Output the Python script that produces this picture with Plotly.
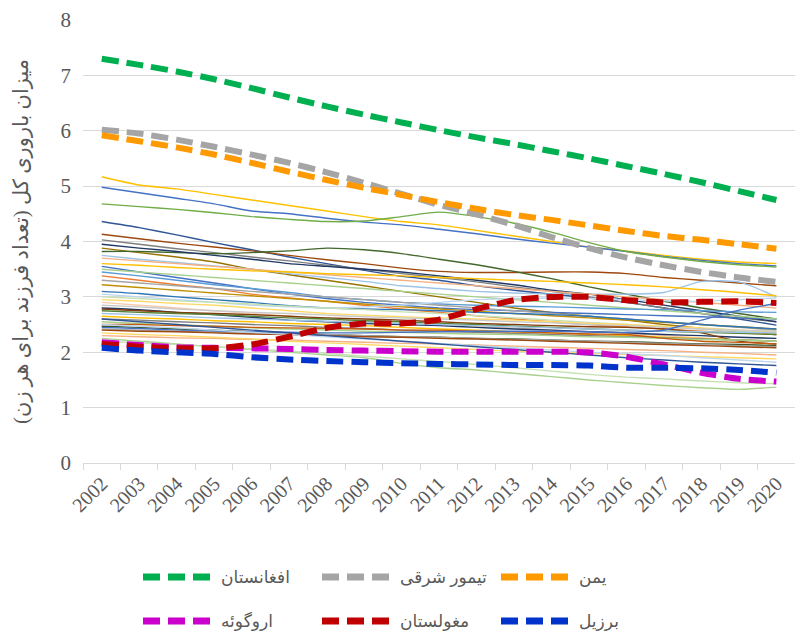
import plotly.graph_objects as go

years = ["2002", "2003", "2004", "2005", "2006", "2007", "2008", "2009", "2010", "2011",
         "2012", "2013", "2014", "2015", "2016", "2017", "2018", "2019", "2020"]

# Highlighted countries (total fertility rate)
afghanistan = [7.30, 7.19, 7.07, 6.93, 6.77, 6.60, 6.44, 6.29, 6.15, 6.01, 5.88, 5.76, 5.63, 5.50, 5.36, 5.22, 5.07, 4.91, 4.75]
timor_leste = [6.02, 5.95, 5.84, 5.71, 5.57, 5.42, 5.25, 5.06, 4.86, 4.66, 4.49, 4.30, 4.08, 3.88, 3.71, 3.57, 3.45, 3.35, 3.27]
yemen = [5.92, 5.81, 5.70, 5.57, 5.42, 5.26, 5.11, 4.97, 4.84, 4.71, 4.59, 4.48, 4.39, 4.29, 4.19, 4.10, 4.03, 3.95, 3.87]
uruguay = [2.18, 2.13, 2.09, 2.08, 2.07, 2.06, 2.04, 2.03, 2.02, 2.01, 2.01, 2.01, 2.01, 2.00, 1.92, 1.78, 1.63, 1.52, 1.47]
mongolia = [2.15, 2.10, 2.07, 2.07, 2.14, 2.28, 2.44, 2.52, 2.52, 2.59, 2.78, 2.94, 3.00, 3.00, 2.94, 2.90, 2.91, 2.92, 2.89]
brazil = [2.08, 2.03, 2.00, 1.97, 1.91, 1.87, 1.84, 1.82, 1.80, 1.79, 1.78, 1.77, 1.77, 1.76, 1.72, 1.72, 1.71, 1.68, 1.63]

highlight_names = ["افغانستان", "تیمور شرقی", "یمن", "اروگوئه", "مغولستان", "برزیل"]
highlight_colors = ["#00B050", "#A5A5A5", "#FF9900", "#CC00CC", "#C00000", "#0033CC"]

# Other countries (thin background lines)
background_tfr = [
    [5.17, 5.02, 4.95, 4.85, 4.75, 4.65, 4.55, 4.45, 4.36, 4.30, 4.20, 4.10, 4.00, 3.90, 3.83, 3.75, 3.68, 3.63, 3.60],
    [4.98, 4.88, 4.78, 4.68, 4.55, 4.50, 4.42, 4.35, 4.30, 4.22, 4.14, 4.05, 3.97, 3.90, 3.82, 3.73, 3.66, 3.60, 3.56],
    [4.68, 4.63, 4.58, 4.52, 4.45, 4.40, 4.36, 4.37, 4.45, 4.53, 4.45, 4.33, 4.17, 3.98, 3.82, 3.72, 3.64, 3.58, 3.54],
    [4.36, 4.25, 4.12, 3.98, 3.85, 3.72, 3.60, 3.48, 3.37, 3.30, 3.20, 3.12, 3.05, 2.98, 2.90, 2.80, 2.70, 2.60, 2.49],
    [4.13, 4.05, 3.97, 3.90, 3.83, 3.75, 3.67, 3.60, 3.52, 3.46, 3.44, 3.44, 3.45, 3.45, 3.42, 3.35, 3.30, 3.25, 3.20],
    [4.03, 3.95, 3.87, 3.80, 3.72, 3.65, 3.57, 3.50, 3.42, 3.35, 3.27, 3.18, 3.10, 3.00, 2.90, 2.80, 2.70, 2.62, 2.55],
    [3.88, 3.80, 3.72, 3.63, 3.50, 3.40, 3.30, 3.20, 3.10, 3.00, 2.90, 2.80, 2.72, 2.65, 2.58, 2.50, 2.43, 2.37, 2.32],
    [3.82, 3.82, 3.80, 3.78, 3.80, 3.83, 3.88, 3.85, 3.78, 3.68, 3.58, 3.46, 3.33, 3.18, 3.05, 2.92, 2.80, 2.70, 2.60],
    [3.95, 3.88, 3.82, 3.75, 3.68, 3.60, 3.55, 3.50, 3.45, 3.38, 3.30, 3.22, 3.12, 3.05, 2.95, 2.85, 2.75, 2.65, 2.55],
    [3.75, 3.68, 3.62, 3.56, 3.50, 3.42, 3.35, 3.28, 3.20, 3.15, 3.10, 3.07, 3.05, 3.05, 3.05, 3.08, 3.28, 3.27, 3.00],
    [3.70, 3.65, 3.60, 3.55, 3.50, 3.45, 3.40, 3.35, 3.30, 3.25, 3.20, 3.15, 3.10, 3.05, 3.00, 2.95, 2.90, 2.85, 2.80],
    [3.60, 3.57, 3.53, 3.50, 3.47, 3.45, 3.42, 3.40, 3.38, 3.35, 3.33, 3.30, 3.28, 3.25, 3.22, 3.18, 3.13, 3.08, 3.02],
    [3.55, 3.45, 3.35, 3.25, 3.15, 3.05, 2.97, 2.90, 2.85, 2.80, 2.77, 2.75, 2.72, 2.70, 2.68, 2.66, 2.64, 2.62, 2.60],
    [3.50, 3.45, 3.40, 3.35, 3.30, 3.25, 3.20, 3.15, 3.10, 3.05, 3.00, 2.95, 2.90, 2.85, 2.80, 2.75, 2.70, 2.65, 2.60],
    [3.45, 3.38, 3.30, 3.22, 3.15, 3.08, 3.00, 2.95, 2.90, 2.87, 2.85, 2.83, 2.82, 2.80, 2.78, 2.77, 2.75, 2.73, 2.72],
    [3.38, 3.30, 3.22, 3.15, 3.05, 2.98, 2.92, 2.85, 2.78, 2.72, 2.66, 2.60, 2.55, 2.50, 2.46, 2.42, 2.38, 2.35, 2.32],
    [3.30, 3.25, 3.20, 3.15, 3.10, 3.05, 3.00, 2.95, 2.90, 2.85, 2.80, 2.75, 2.70, 2.65, 2.60, 2.55, 2.50, 2.45, 2.40],
    [3.22, 3.17, 3.12, 3.07, 3.02, 2.97, 2.92, 2.87, 2.82, 2.78, 2.74, 2.70, 2.66, 2.62, 2.58, 2.54, 2.50, 2.46, 2.42],
    [3.10, 3.06, 3.00, 2.95, 2.90, 2.84, 2.80, 2.78, 2.77, 2.75, 2.72, 2.70, 2.68, 2.65, 2.60, 2.55, 2.50, 2.46, 2.42],
    [3.05, 3.00, 2.95, 2.90, 2.85, 2.82, 2.80, 2.82, 2.85, 2.90, 2.95, 2.97, 2.98, 2.97, 2.95, 2.93, 2.92, 2.95, 2.98],
    [3.00, 2.97, 2.93, 2.90, 2.87, 2.83, 2.80, 2.77, 2.73, 2.70, 2.66, 2.62, 2.58, 2.54, 2.50, 2.46, 2.42, 2.38, 2.35],
    [2.95, 2.92, 2.88, 2.85, 2.80, 2.75, 2.70, 2.67, 2.64, 2.62, 2.60, 2.58, 2.55, 2.52, 2.50, 2.47, 2.44, 2.40, 2.37],
    [2.90, 2.85, 2.80, 2.75, 2.70, 2.65, 2.60, 2.56, 2.52, 2.50, 2.47, 2.44, 2.40, 2.37, 2.33, 2.30, 2.26, 2.22, 2.20],
    [2.85, 2.82, 2.78, 2.75, 2.72, 2.70, 2.67, 2.64, 2.62, 2.60, 2.58, 2.55, 2.53, 2.50, 2.48, 2.45, 2.42, 2.40, 2.38],
    [2.80, 2.77, 2.72, 2.68, 2.63, 2.58, 2.55, 2.52, 2.50, 2.48, 2.45, 2.42, 2.40, 2.37, 2.35, 2.32, 2.30, 2.27, 2.25],
    [2.78, 2.75, 2.72, 2.70, 2.68, 2.65, 2.62, 2.60, 2.58, 2.55, 2.52, 2.50, 2.48, 2.46, 2.45, 2.42, 2.35, 2.20, 2.15],
    [2.75, 2.72, 2.70, 2.68, 2.65, 2.62, 2.60, 2.57, 2.55, 2.52, 2.50, 2.47, 2.45, 2.42, 2.40, 2.38, 2.36, 2.34, 2.32],
    [2.70, 2.68, 2.65, 2.62, 2.60, 2.58, 2.56, 2.54, 2.52, 2.50, 2.48, 2.46, 2.44, 2.42, 2.40, 2.38, 2.37, 2.36, 2.35],
    [2.65, 2.62, 2.60, 2.57, 2.55, 2.52, 2.50, 2.48, 2.45, 2.42, 2.40, 2.37, 2.35, 2.32, 2.30, 2.27, 2.25, 2.22, 2.20],
    [2.60, 2.58, 2.55, 2.53, 2.50, 2.48, 2.45, 2.43, 2.40, 2.38, 2.36, 2.34, 2.32, 2.30, 2.28, 2.26, 2.24, 2.22, 2.20],
    [2.55, 2.52, 2.50, 2.47, 2.44, 2.42, 2.40, 2.38, 2.36, 2.34, 2.33, 2.32, 2.30, 2.28, 2.27, 2.25, 2.23, 2.22, 2.20],
    [2.50, 2.50, 2.48, 2.47, 2.45, 2.44, 2.43, 2.42, 2.40, 2.40, 2.38, 2.37, 2.35, 2.33, 2.32, 2.25, 2.20, 2.18, 2.15],
    [2.47, 2.45, 2.42, 2.40, 2.37, 2.35, 2.32, 2.30, 2.28, 2.27, 2.25, 2.24, 2.22, 2.20, 2.19, 2.17, 2.15, 2.14, 2.12],
    [2.45, 2.43, 2.40, 2.38, 2.37, 2.36, 2.35, 2.35, 2.36, 2.37, 2.38, 2.38, 2.38, 2.37, 2.36, 2.40, 2.58, 2.76, 2.88],
    [2.42, 2.40, 2.38, 2.36, 2.34, 2.33, 2.32, 2.30, 2.28, 2.27, 2.25, 2.23, 2.22, 2.20, 2.18, 2.16, 2.14, 2.12, 2.10],
    [2.40, 2.38, 2.37, 2.35, 2.33, 2.32, 2.30, 2.28, 2.27, 2.25, 2.24, 2.22, 2.20, 2.18, 2.16, 2.14, 2.12, 2.10, 2.08],
    [2.30, 2.28, 2.26, 2.25, 2.23, 2.22, 2.20, 2.18, 2.16, 2.15, 2.13, 2.11, 2.09, 2.07, 2.05, 2.03, 2.00, 1.98, 1.95],
    [2.25, 2.20, 2.15, 2.10, 2.05, 2.00, 1.95, 1.90, 1.80, 1.72, 1.68, 1.62, 1.56, 1.50, 1.45, 1.40, 1.36, 1.33, 1.37],
    [2.20, 2.17, 2.14, 2.10, 2.06, 2.02, 1.98, 1.93, 1.88, 1.83, 1.78, 1.72, 1.66, 1.60, 1.55, 1.52, 1.48, 1.45, 1.43],
    [2.35, 2.32, 2.30, 2.27, 2.24, 2.20, 2.17, 2.14, 2.11, 2.08, 2.05, 2.02, 2.00, 1.98, 1.96, 1.94, 1.92, 1.90, 1.88],
    [2.50, 2.47, 2.44, 2.40, 2.36, 2.32, 2.28, 2.24, 2.20, 2.16, 2.12, 2.08, 2.04, 2.00, 1.97, 1.94, 1.90, 1.86, 1.82],
    [2.60, 2.55, 2.50, 2.45, 2.40, 2.35, 2.30, 2.25, 2.20, 2.15, 2.10, 2.05, 2.00, 1.95, 1.90, 1.86, 1.82, 1.79, 1.76],
]
background_colors = [
    "#FFC000", "#4472C4", "#70AD47", "#2F5597", "#9E480E", "#7F7F7F", "#997300", "#43682B",
    "#203864", "#9DC3E6", "#F4B183", "#FFC000", "#4472C4", "#A9D18E", "#5B9BD5", "#ED7D31",
    "#A5A5A5", "#BF9000", "#2E75B6", "#BDD7EE", "#C5E0B4", "#FFD966", "#F8CBAD", "#C9C9C9",
    "#1F3864", "#843C0C", "#548235", "#9DC3E6", "#FFC000", "#7F7F7F", "#A9D18E", "#C55A11",
    "#375623", "#4472C4", "#A5A5A5", "#9E480E", "#F4B183", "#A9D18E", "#C5E0B4", "#FFD966",
    "#BDD7EE", "#2F5597",
]

SERIF = "Liberation Serif, DejaVu Serif, serif"
PERSIAN = "Liberation Serif, DejaVu Sans, serif"

fig = go.Figure()

for vals, col in zip(background_tfr, background_colors):
    fig.add_trace(go.Scatter(
        x=years, y=vals, mode="lines", showlegend=False, hoverinfo="skip",
        line=dict(color=col, width=1.4, shape="spline", smoothing=0.6),
    ))

highlight_values = [timor_leste, yemen, afghanistan, uruguay, mongolia, brazil]
highlight_order = [1, 2, 0, 3, 4, 5]
for idx, vals in zip(highlight_order, highlight_values):
    fig.add_trace(go.Scatter(
        x=years, y=vals, mode="lines", name=highlight_names[idx], showlegend=False,
        line=dict(color=highlight_colors[idx], width=6, dash="17px,8px",
                  shape="spline", smoothing=0.6),
    ))

# Page body has an 8px default margin: figure is sized/offset so the plot area
# sits at window x 83..803, y 20..463.
plot_left, plot_w, plot_bottom, plot_h = 83, 720, 463, 443
def px(x):
    return (x - plot_left) / plot_w
def py(y):
    return (plot_bottom - y) / plot_h

legend_rows = [[0, 1, 2], [3, 4, 5]]
row_y = [577, 621]
col_x = [143, 322, 501]
for r, row in enumerate(legend_rows):
    for c, idx in enumerate(row):
        fig.add_shape(type="line", xref="paper", yref="paper",
                      x0=px(col_x[c]), x1=px(col_x[c] + 68), y0=py(row_y[r]), y1=py(row_y[r]),
                      line=dict(color=highlight_colors[idx], width=7, dash="17px,8px"))
        fig.add_annotation(xref="paper", yref="paper", x=px(col_x[c] + 76), y=py(row_y[r]),
                           text=highlight_names[idx], showarrow=False, xanchor="left",
                           yanchor="middle",
                           font=dict(family=PERSIAN, size=17, color="#595959"))

fig.update_layout(
    width=795, height=630,
    margin=dict(l=75, r=0, t=12, b=175),
    paper_bgcolor="white", plot_bgcolor="white",
    showlegend=False,
    xaxis=dict(
        type="category", range=[-0.5, 18.71], tickson="boundaries",
        showgrid=False, showline=True, linecolor="#D9D9D9", linewidth=1,
        ticks="outside", ticklen=6, tickcolor="#D9D9D9", tickangle=-45,
        tickfont=dict(family=SERIF, size=20, color="#595959"),
        zeroline=False,
    ),
    yaxis=dict(
        range=[0, 8], dtick=1, showgrid=True, gridcolor="#D9D9D9", gridwidth=1,
        zeroline=False, showline=False, ticks="", ticklabelstandoff=11,
        tickfont=dict(family=SERIF, size=21, color="#595959"),
        title=dict(text="میزان باروری کل (تعداد فرزند برای هر زن)", standoff=26,
                   font=dict(family=PERSIAN, size=21, color="#595959")),
        automargin=False,
    ),
)

fig.write_html("out.html")
